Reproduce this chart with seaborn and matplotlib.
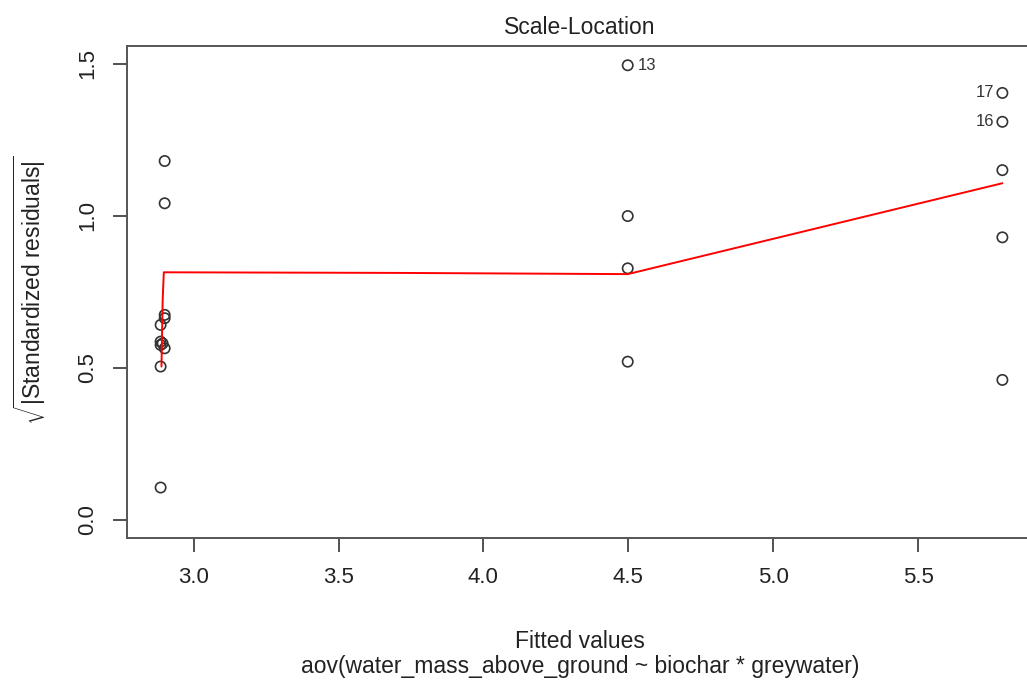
import matplotlib
matplotlib.use("Agg")
import matplotlib.pyplot as plt
import seaborn as sns
import pandas as pd

# fitted values and sqrt(|standardized residuals|)
fitted = [2.900, 2.900, 2.900, 2.900, 2.900, 2.886, 2.886, 2.886, 2.886, 2.886, 2.893,
          4.498, 4.498, 4.498, 4.498,
          5.791, 5.791, 5.791, 5.791, 5.791]
sqrt_resid = [1.180, 1.041, 0.674, 0.663, 0.564, 0.641, 0.586, 0.504, 0.106, 0.575, 0.580,
              1.495, 0.999, 0.827, 0.520,
              1.404, 1.309, 1.150, 0.929, 0.460]
obs_id = [1, 2, 3, 4, 5, 6, 7, 8, 9, 10, 11, 13, 12, 14, 15, 17, 16, 18, 19, 20]

# red smoother
smooth_x = [2.889, 2.893, 2.897, 3.700, 4.498, 5.791]
smooth_y = [0.504, 0.720, 0.814, 0.812, 0.808, 1.107]

# labelled points
label_ids = [13, 17, 16]
label_side = ["right", "left", "left"]

pts = pd.DataFrame({"fitted": fitted, "resid": sqrt_resid, "id": obs_id})
smooth = pd.DataFrame({"x": smooth_x, "y": smooth_y})

sns.set_theme(style="ticks")
plt.rcParams["font.family"] = ["Liberation Sans", "DejaVu Sans"]
plt.rcParams["mathtext.fontset"] = "custom"
plt.rcParams["mathtext.rm"] = "Liberation Sans"
plt.rcParams["mathtext.it"] = "Liberation Sans:italic"

fig = plt.figure(figsize=(10.27, 6.84), dpi=100)
ax = fig.add_axes([127 / 1027, 1 - 538 / 684, (1036 - 127) / 1027, (538 - 45.5) / 684])

sns.lineplot(data=smooth, x="x", y="y", sort=False, estimator=None,
             color="red", linewidth=1.4, ax=ax)
sns.scatterplot(data=pts, x="fitted", y="resid", marker="o", s=55,
                facecolor="none", edgecolor="#333333", linewidth=1.2, ax=ax)

for lid, side in zip(label_ids, label_side):
    row = pts[pts["id"] == lid].iloc[0]
    off = 7 if side == "right" else -6
    ax.annotate(str(lid), (row["fitted"], row["resid"]), xytext=(off, 0),
                textcoords="offset points", ha="left" if side == "right" else "right",
                va="center", fontsize=12, color="#333333")

ax.set_xlim(2.770, 5.907)
ax.set_ylim(-0.06, 1.56)
ax.set_xticks([3.0, 3.5, 4.0, 4.5, 5.0, 5.5])
ax.set_yticks([0.0, 0.5, 1.0, 1.5])
ax.set_xticklabels(["3.0", "3.5", "4.0", "4.5", "5.0", "5.5"])
ax.set_yticklabels(["0.0", "0.5", "1.0", "1.5"], rotation=90, va="center")
ax.tick_params(axis="both", length=10, width=1.2, color="#333333",
               labelsize=16, pad=11, labelcolor="#222222")
for sp in ax.spines.values():
    sp.set_visible(True)
    sp.set_color("#555555")
    sp.set_linewidth(1.4)
ax.set_xlabel("")
ax.set_ylabel("")

fig.text(580 / 1027, 1 - 28 / 684, "Scale-Location", ha="center", va="center",
         fontsize=16.5, color="#222222")
fig.text(580 / 1027, 1 - 641 / 684, "Fitted values", ha="center", va="center",
         fontsize=16.5, color="#222222")
fig.text(580 / 1027, 1 - 667 / 684, "aov(water_mass_above_ground ~ biochar * greywater)",
         ha="center", va="center", fontsize=16.5, color="#222222")
fig.text(30 / 1027, 1 - 290 / 684, r"$\sqrt{|\mathrm{Standardized\ residuals}|}$",
         rotation=90, ha="center", va="center", fontsize=16.5, color="#222222")

fig.savefig("out.png", dpi=100, facecolor="white")
